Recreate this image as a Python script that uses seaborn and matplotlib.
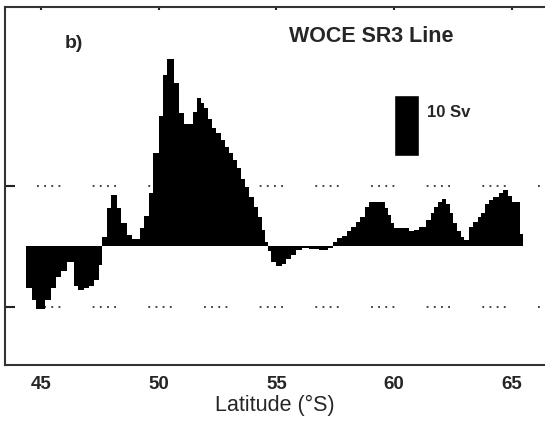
import matplotlib
matplotlib.use("Agg")
import matplotlib.pyplot as plt
import numpy as np
import pandas as pd
import seaborn as sns

# latitude bin edges (deg S) and transport per bin (Sv)
LAT_EDGES = [
    44.37, 44.63, 44.80, 45.18, 45.43, 45.64, 45.86, 46.10, 46.41, 46.59,
    46.83, 47.04, 47.25, 47.47, 47.61, 47.82, 48.00, 48.24, 48.39, 48.64,
    48.89, 49.20, 49.37, 49.60, 49.77, 50.02, 50.19, 50.34, 50.66, 50.87,
    51.07, 51.44, 51.61, 51.78, 51.92, 52.10, 52.28, 52.45, 52.64, 52.81,
    52.98, 53.16, 53.33, 53.51, 53.67, 53.84, 54.03, 54.22, 54.40, 54.50,
    54.64, 54.78, 54.97, 55.25, 55.42, 55.63, 55.84, 56.10, 56.38, 56.80,
    57.18, 57.39, 57.56, 57.79, 57.99, 58.17, 58.39, 58.56, 58.74, 58.92,
    59.59, 59.73, 59.87, 60.01, 60.64, 60.86, 61.07, 61.35, 61.56, 61.70,
    61.84, 62.03, 62.20, 62.37, 62.51, 62.65, 62.84, 62.98, 63.16, 63.36,
    63.54, 63.68, 63.86, 64.03, 64.20, 64.43, 64.60, 64.81, 65.02, 65.36,
    65.48,
]
TRANSPORT = [
    -6.9, -8.9, -10.4, -8.8, -6.9, -5.0, -4.0, -2.6, -6.5, -7.2,
    -6.9, -6.5, -5.5, -3.0, 1.6, 6.3, 8.5, 6.3, 3.9, 1.9,
    1.2, 3.0, 5.1, 8.9, 15.4, 21.5, 28.4, 31.0, 27.1, 22.1,
    20.2, 22.3, 24.6, 23.7, 22.9, 21.0, 19.6, 18.7, 17.6, 16.5,
    15.4, 14.3, 12.9, 11.2, 9.8, 8.2, 6.6, 4.9, 2.7, 0.8,
    -0.8, -2.5, -3.3, -2.9, -2.1, -1.4, -0.6, -0.3, -0.45, -0.6,
    -0.3, 0.8, 1.4, 1.75, 2.5, 3.3, 4.1, 4.9, 6.6, 7.3,
    6.3, 5.2, 3.9, 3.0, 2.5, 2.7, 3.3, 4.4, 5.5, 6.6,
    7.3, 7.8, 7.0, 5.5, 3.9, 2.5, 1.6, 1.1, 3.3, 4.1,
    4.8, 5.5, 7.0, 7.7, 8.2, 8.9, 9.4, 8.4, 7.4, 2.0,
]
X_TICKS = [45, 50, 55, 60, 65]
Y_TICKS = [-10, 10]
SCALE_SV = 10

sns.set_theme(style="ticks")
plt.rcParams["font.family"] = ["Liberation Sans", "DejaVu Sans"]

fig = plt.figure(figsize=(5.45, 4.21), dpi=100)
ax = fig.add_axes([5 / 545, 1 - 365 / 421, 540 / 545, 358 / 421])

edges = np.array(LAT_EDGES)
df = pd.DataFrame({"lat": (edges[:-1] + edges[1:]) / 2, "sv": TRANSPORT})
sns.histplot(data=df, x="lat", weights="sv", bins=LAT_EDGES, element="step",
             fill=True, color="black", alpha=1, linewidth=0, ax=ax, zorder=3)

# dotted reference lines
dots = (0, (1.1, 3.2, 1.1, 3.2, 1.1, 3.2, 1.1, 19.4))
for y in Y_TICKS:
    ax.axhline(y, xmin=32 / 540, xmax=1, color="#222222", lw=1.2,
               linestyle=dots, zorder=1)

# scale bar
ax.bar(60.52, SCALE_SV, bottom=15, width=1.03, color="black", zorder=3)
ax.text(61.41, 22.1, f"{SCALE_SV} Sv", fontsize=12, fontweight="bold",
        va="center", ha="left")

ax.text(59.04, 34.8, "WOCE SR3 Line", fontsize=15.5, fontweight="bold",
        ha="center", va="center")
ax.text(46.41, 33.5, "b)", fontsize=14, fontweight="bold",
        ha="center", va="center")

ax.set_xlim(43.48, 66.4)
ax.set_ylim(-19.6, 39.6)
ax.set_xticks(X_TICKS)
ax.set_xticklabels([str(t) for t in X_TICKS], fontsize=13.5, fontweight="bold")
ax.set_yticks(Y_TICKS)
ax.set_yticklabels([])
ax.tick_params(axis="x", length=0, pad=8)
ax.tick_params(axis="y", direction="in", length=7, width=1.5, color="#222222")
ax.set_xlabel("Latitude (°S)", fontsize=15.5, labelpad=1)
ax.set_ylabel("")

top = ax.secondary_xaxis("top")
top.set_xticks(X_TICKS)
top.tick_params(direction="in", length=2.5, width=1.5, labeltop=False,
                color="#222222")
top.spines["top"].set_visible(False)

for side in ["left", "bottom", "top"]:
    ax.spines[side].set_visible(True)
    ax.spines[side].set_linewidth(1.5)
    ax.spines[side].set_color("#333333")
ax.spines["right"].set_visible(False)

fig.savefig("out.png", dpi=100, facecolor="white")
